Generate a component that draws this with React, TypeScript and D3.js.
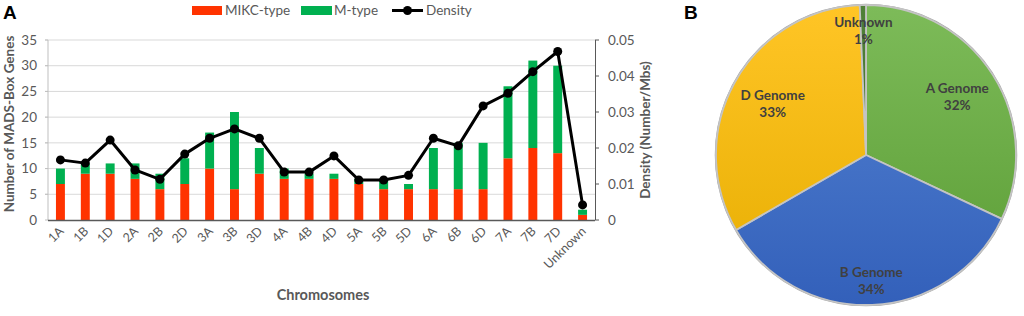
import React from "react";
import * as d3 from "d3";

const categories = ["1A","1B","1D","2A","2B","2D","3A","3B","3D","4A","4B","4D","5A","5B","5D","6A","6B","6D","7A","7B","7D","Unknown"];
const mikc = [7,9,9,8,6,7,10,6,9,8,8,8,7,6,6,6,6,6,12,14,13,1];
const mtype = [3,2,2,3,3,5,7,15,5,2,1,1,1,2,1,8,9,9,14,17,17,1];
const density = [0.0167,0.0158,0.0222,0.0139,0.0113,0.0183,0.0227,0.0253,0.0227,0.0133,0.0133,0.0178,0.0111,0.0111,0.0124,0.0227,0.0206,0.0317,0.0352,0.0412,0.0468,0.0042];
const leftTicks = [0,5,10,15,20,25,30,35];
const rightTicks = [0,0.01,0.02,0.03,0.04,0.05];

const pieNames = ["A Genome","B Genome","D Genome","Unknown"];
const pieValues = [96,104,98,2];
const pieLabels = ["32%","34%","33%","1%"];
const pieLabelRadius = [0.72,0.84,0.71,0.83];

const FONT = "Lato, 'Open Sans', sans-serif";
const GRAY = "#595959";

export default function App() {
  const x = d3.scaleBand<string>().domain(categories).range([48, 595]).paddingInner(0.64).paddingOuter(0.32);
  const y = d3.scaleLinear().domain([0, 35]).range([220, 40]);
  const y2 = d3.scaleLinear().domain([0, 0.05]).range([220, 40]);
  const cx = (c: string) => (x(c) as number) + x.bandwidth() / 2;
  const line = d3.line<number>().x((_, i) => cx(categories[i])).y((d) => y2(d));

  const pcx = 866, pcy = 155, R = 150;
  const pie = d3.pie<number>().sort(null).startAngle(0).endAngle(2 * Math.PI)(pieValues);
  const arc = d3.arc<d3.PieArcDatum<number>>().innerRadius(0).outerRadius(R);
  const grads = [
    ["#7dbb59", "#5a9c34"],
    ["#5584d3", "#3360ba"],
    ["#ffc526", "#e6ad00"],
    ["#4f8038", "#3f6a2b"],
  ];

  return (
    <svg width={1024} height={316} style={{ position: "absolute", left: 0, top: 0, background: "#fff" }} fontFamily={FONT}>
      <defs>
        {grads.map((g, i) => (
          <linearGradient key={i} id={`pg${i}`} gradientUnits="userSpaceOnUse" x1={0} y1={-R} x2={0} y2={R}>
            <stop offset="0" stopColor={g[0]} />
            <stop offset="1" stopColor={g[1]} />
          </linearGradient>
        ))}
      </defs>
      <rect width={1024} height={316} fill="#fff" />
      {/* Panel A */}
      <text x={3} y={19} fontFamily="'Liberation Sans', Arial, sans-serif" fontWeight="bold" fontSize={19} fill="#000">A</text>
      {/* legend */}
      <rect x={192} y={6} width={30} height={9} fill="#ff3300" />
      <text x={225} y={15} fontSize={13.5} fill={GRAY}>MIKC-type</text>
      <rect x={301} y={6} width={31} height={9} fill="#00b050" />
      <text x={334} y={15} fontSize={13.5} fill={GRAY}>M-type</text>
      <line x1={392} x2={423} y1={10.5} y2={10.5} stroke="#000" strokeWidth={3} />
      <circle cx={407.5} cy={10.5} r={4.5} fill="#000" />
      <text x={426} y={15} fontSize={13.5} fill={GRAY}>Density</text>

      {/* gridlines */}
      {leftTicks.filter((t) => t > 0).map((t) => (
        <line key={t} x1={45} x2={595} y1={y(t)} y2={y(t)} stroke="#d9d9d9" strokeWidth={1} />
      ))}
      {/* left axis */}
      <line x1={48} x2={48} y1={40} y2={220} stroke="#bfbfbf" />
      {leftTicks.map((t) => (
        <g key={t}>
          <line x1={45} x2={48} y1={y(t)} y2={y(t)} stroke="#bfbfbf" />
          <text x={37} y={y(t)} dy="0.35em" textAnchor="end" fontSize={13.5} fill={GRAY}>{t}</text>
        </g>
      ))}
      {/* right axis */}
      <line x1={595.5} x2={595.5} y1={40} y2={220} stroke={GRAY} />
      {rightTicks.map((t) => (
        <g key={t}>
          <line x1={595} x2={599} y1={y2(t)} y2={y2(t)} stroke={GRAY} />
          <text x={608} y={y2(t)} dy="0.35em" fontSize={13.5} fill={GRAY}>{t === 0 ? "0" : t.toFixed(2)}</text>
        </g>
      ))}
      {/* bars */}
      {categories.map((c, i) => (
        <g key={c}>
          <rect x={x(c)} width={x.bandwidth()} y={y(mikc[i])} height={y(0) - y(mikc[i])} fill="#ff3300" />
          <rect x={x(c)} width={x.bandwidth()} y={y(mikc[i] + mtype[i])} height={y(mikc[i]) - y(mikc[i] + mtype[i])} fill="#00b050" />
        </g>
      ))}
      <line x1={48} x2={595} y1={220.5} y2={220.5} stroke={GRAY} strokeWidth={1.5} />
      {/* density */}
      <path d={line(density) || ""} fill="none" stroke="#000" strokeWidth={3} strokeLinejoin="round" />
      {density.map((d, i) => (
        <circle key={i} cx={cx(categories[i])} cy={y2(d)} r={4.5} fill="#000" />
      ))}
      {/* x labels */}
      {categories.map((c) => (
        <text key={c} transform={`translate(${cx(c) + 4},${232}) rotate(-45)`} textAnchor="end" fontSize={12.5} fill={GRAY}>{c}</text>
      ))}
      <text x={323} y={300} textAnchor="middle" fontSize={14.5} fontWeight="bold" fill={GRAY}>Chromosomes</text>
      <text transform="translate(14,124) rotate(-90)" textAnchor="middle" fontSize={13.5} fontWeight="bold" fill={GRAY}>Number of MADS-Box Genes</text>
      <text transform="translate(650,130) rotate(-90)" textAnchor="middle" fontSize={13.5} fontWeight="bold" fill={GRAY}>Density (Number/Mbs)</text>

      {/* Panel B */}
      <text x={684} y={19} fontFamily="'Liberation Sans', Arial, sans-serif" fontWeight="bold" fontSize={19} fill="#000">B</text>
      <g transform={`translate(${pcx},${pcy})`}>
        <circle r={R + 0.5} fill="none" stroke="#a6a6a6" strokeWidth={1.5} />
        {pie.map((p, i) => (
          <path key={i} d={arc(p) || ""} fill={`url(#pg${i})`} stroke="#c4c4c4" strokeWidth={1.8} strokeLinejoin="round" />
        ))}
        {pie.map((p, i) => {
          const a = (p.startAngle + p.endAngle) / 2;
          const r = R * pieLabelRadius[i];
          const lx = Math.sin(a) * r;
          const ly = -Math.cos(a) * r;
          return (
            <g key={"l" + i} fontSize={13.5} fontWeight="bold" fill="#404040" textAnchor="middle">
              <text x={lx} y={ly - 4}>{pieNames[i]}</text>
              <text x={lx} y={ly + 13}>{pieLabels[i]}</text>
            </g>
          );
        })}
      </g>
    </svg>
  );
}
